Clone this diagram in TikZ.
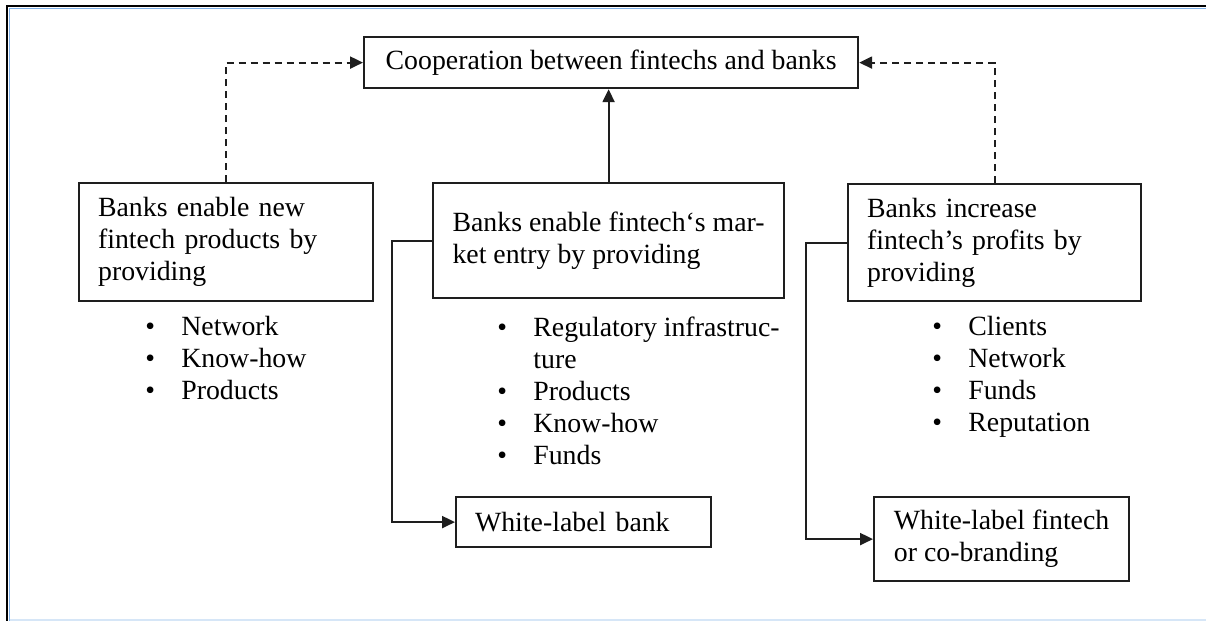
\documentclass[tikz,border=0pt]{standalone}
\usepackage{fontspec}
\setmainfont{Liberation Serif}
\usetikzlibrary{arrows.meta}
\definecolor{lineink}{HTML}{1E1E1E}
\definecolor{frameblue}{HTML}{7FB0E8}
\definecolor{faintblue}{HTML}{D6E6F7}
\begin{document}
\begin{tikzpicture}[x=0.5pt,y=-0.5pt,
  txt/.style={font=\fontsize{13.9pt}{16pt}\selectfont, text=black},
  boxnode/.style={txt, draw=lineink, line width=1.1pt, anchor=north west},
  listnode/.style={txt, anchor=base west, inner sep=0pt, align=left},
  arr/.style={draw=lineink, line width=1.1pt, -{Triangle[length=6.5pt,width=6pt]}},
  dashline/.style={dash pattern=on 3.5pt off 2.5pt}
]
\useasboundingbox (0,0) rectangle (1206,621);
\fill[white] (0,0) rectangle (1206,621);
% page frame
\draw[black, line width=1pt] (7,621) -- (7,6) -- (1206,6);
\draw[frameblue, line width=0.7pt] (9.5,621) -- (9.5,8.6) -- (1206,8.6);
\draw[faintblue, line width=0.6pt] (9.5,620) -- (1206,620);

% boxes
\node[boxnode, inner sep=0pt, minimum width=247pt, minimum height=25.5pt] (top) at (363,36)
  {Cooperation between fintechs and banks};
\node[boxnode, inner xsep=9.5pt, inner ysep=0pt, text width=128pt, align=left, minimum height=59pt] (left) at (78,182)
  {Banks enable new\\fintech products by\\providing};
\node[boxnode, inner xsep=0pt, inner ysep=0pt, align=left, minimum width=175.5pt, minimum height=57.5pt] (mid) at (432,182)
  {Banks enable fintech‘s mar-\\ket entry by providing};
\node[boxnode, inner xsep=9.5pt, inner ysep=0pt, text width=127.5pt, align=left, minimum height=58.5pt] (right) at (847,183)
  {Banks increase\\fintech’s profits by\\providing};
\node[boxnode, inner xsep=9.5pt, inner ysep=0pt, text width=108.5pt, align=left, minimum height=25pt] (wlb) at (455,496)
  {White-label bank};
\node[boxnode, inner xsep=0pt, inner ysep=0pt, align=left, minimum width=127.5pt, minimum height=42pt] (wlf) at (873,496)
  {White-label fintech\\or co-branding};

% bullet lists (anchored at the baseline of their last line)
\node[listnode] (leftlist) at (145,399)
  {\makebox[18pt][l]{\textbullet}Network\\
   \makebox[18pt][l]{\textbullet}Know-how\\
   \makebox[18pt][l]{\textbullet}Products};
\node[listnode] (midlist) at (497,464)
  {\makebox[18pt][l]{\textbullet}Regulatory infrastruc-\\
   \hspace*{18pt}ture\\
   \makebox[18pt][l]{\textbullet}Products\\
   \makebox[18pt][l]{\textbullet}Know-how\\
   \makebox[18pt][l]{\textbullet}Funds};
\node[listnode] (rightlist) at (932,431)
  {\makebox[18pt][l]{\textbullet}Clients\\
   \makebox[18pt][l]{\textbullet}Network\\
   \makebox[18pt][l]{\textbullet}Funds\\
   \makebox[18pt][l]{\textbullet}Reputation};

% connectors
\draw[arr] (mid.north) -- (mid.north |- top.south);
\draw[arr, dashline] (left.north) |- (top.west);
\draw[arr, dashline] (right.north) |- (top.east);
\draw[arr] (mid.west) -- ++(-40,0) |- (wlb.west);
\draw[arr] (right.west) -- ++(-41,0) |- (wlf.west);
\end{tikzpicture}
\end{document}
